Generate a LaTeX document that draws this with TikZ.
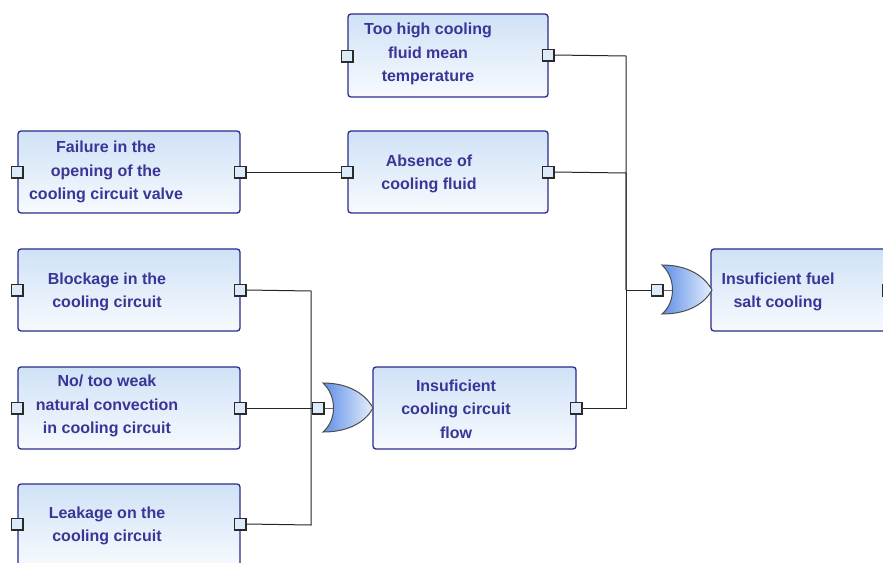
\documentclass[tikz,border=0pt]{standalone}
\usepackage{fontspec}
\setmainfont{Liberation Sans}
\definecolor{boxline}{HTML}{2B2B8C}
\definecolor{boxtop}{HTML}{CFE2F6}
\definecolor{boxbot}{HTML}{F7FAFE}
\definecolor{txt}{HTML}{3A3596}
\definecolor{portfill}{HTML}{DDEBF8}
\definecolor{portline}{HTML}{2A2A2A}
\definecolor{gatedark}{HTML}{5F8FE6}
\definecolor{gatelight}{HTML}{E6EFFC}
\tikzset{
  evbox/.style={draw=boxline, line width=1.3pt, rounded corners=3pt, top color=boxtop, bottom color=boxbot, inner sep=0pt},
  evtext/.style={text=txt, font=\bfseries\fontsize{16}{23.5}\selectfont, align=center, inner sep=0pt},
  port/.style={draw=portline, fill=portfill, line width=1.5pt, minimum size=11.5pt, inner sep=0pt},
  wire/.style={draw=black!85, line width=1pt},
}
\begin{document}
\begin{tikzpicture}[x=1pt,y=-1pt]
\clip (0,0) rectangle (883,562);
\fill[white] (0,0) rectangle (883,562);
% boxes
\node[evbox, minimum width=200pt, minimum height=83pt] (b1) at (448,55.5) {};
\node[evbox, minimum width=222pt, minimum height=82pt] (b2) at (129,172) {};
\node[evbox, minimum width=200pt, minimum height=82pt] (b3) at (448,172) {};
\node[evbox, minimum width=222pt, minimum height=82pt] (b4) at (129,290) {};
\node[evbox, minimum width=222pt, minimum height=82pt] (b5) at (129,408) {};
\node[evbox, minimum width=222pt, minimum height=82pt] (b6) at (129,525) {};
\node[evbox, minimum width=203pt, minimum height=82pt] (b7) at (474.5,408) {};
\node[evbox, minimum width=190pt, minimum height=82pt] (b8) at (806,290) {};
% texts
\node[evtext] (t1) at (428,54) {Too high cooling\\fluid mean\\temperature};
\node[evtext] (t2) at (106,172) {Failure in the\\opening of the\\cooling circuit valve};
\node[evtext] (t3) at (429,174) {Absence of\\cooling fluid};
\node[evtext] (t4) at (107,292) {Blockage in the\\cooling circuit};
\node[evtext] (t5) at (107,406) {No/ too weak\\natural convection\\in cooling circuit};
\node[evtext] (t6) at (107,526) {Leakage on the\\cooling circuit};
\node[evtext] (t7) at (456,409) {Insuficient\\cooling circuit\\flow};
\node[evtext] (t8) at (778,292) {Insuficient fuel\\salt cooling};
% gates
\shade[left color=gatedark, right color=gatelight, draw=black!70, line width=1pt]
 (323,383) .. controls (350,383) and (366,395) .. (373,408)
 .. controls (366,421) and (350,432) .. (323,432)
 .. controls (337,420) and (337,396) .. (323,383) -- cycle;
\shade[left color=gatedark, right color=gatelight, draw=black!70, line width=1pt]
 (662,265) .. controls (689,265) and (705,277) .. (712,290)
 .. controls (705,303) and (689,314) .. (662,314)
 .. controls (676,302) and (676,278) .. (662,265) -- cycle;
\coordinate (g1back) at (333,408);
\coordinate (g2back) at (672,290);
% wires
\coordinate (j1) at (311,408);
\coordinate (j2) at (626,290);
\node[port] (p1r) at (548,55) {};
\node[port] (p1l) at (347,56) {};
\node[port] (p2l) at (17,172) {};
\node[port] (p2r) at (240,172) {};
\node[port] (p3l) at (347,172) {};
\node[port] (p3r) at (548,172) {};
\node[port] (p4l) at (17,290) {};
\node[port] (p4r) at (240,290) {};
\node[port] (p5l) at (17,408) {};
\node[port] (p5r) at (240,408) {};
\node[port] (p6l) at (17,524) {};
\node[port] (p6r) at (240,524) {};
\node[port] (p7r) at (576,408) {};
\node[port] (p8r) at (888,290) {};
\draw[wire] (p2r) -- (p3l);
\draw[wire] (p4r.east) -- (311,291) -- (j1);
\draw[wire] (p5r.east) -- (j1);
\draw[wire] (p6r.east) -- (311,525) -- (j1);
\draw[wire] (p1r.east) -- (626,56) -- (j2);
\draw[wire] (p3r.east) -- (626,173) -- (j2);
\draw[wire] (p7r.east) -- (626,408) -- (j2);
\draw[draw=black!60, line width=0.8pt] (318,408) -- (g1back);
\draw[draw=black!60, line width=0.8pt] (657,290) -- (g2back);
\node[port] (g1in) at (318,408) {};
\node[port] (g2in) at (657,290) {};
\draw[wire] (j1) -- (g1in);
\draw[wire] (j2) -- (g2in);
\end{tikzpicture}
\end{document}
